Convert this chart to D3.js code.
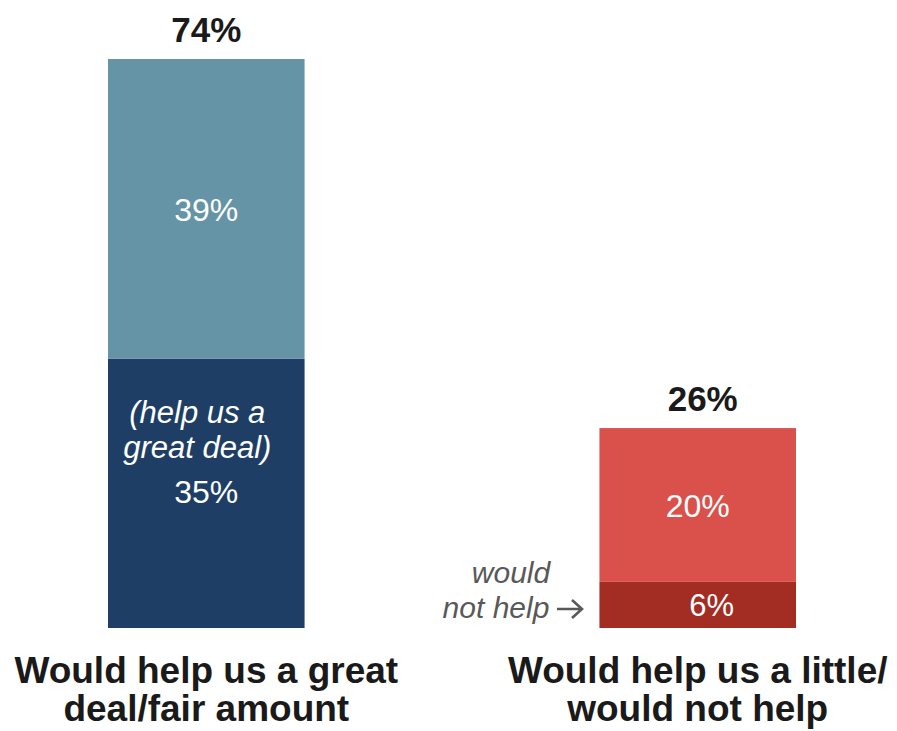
<!DOCTYPE html>
<html>
<head>
<meta charset="utf-8">
<script src="https://cdn.jsdelivr.net/npm/d3@7"></script>
<style>
  html, body { margin: 0; padding: 0; background: #ffffff; }
  svg { display: block; font-family: "Liberation Sans", Arial, sans-serif; }
</style>
</head>
<body>
<svg id="chart" width="897" height="731"></svg>
<script>
// Two stacked bars: share of respondents by how much the help would matter
const categories = ["great", "little"];
const categoryLines = [
  ["Would help us a great", "deal/fair amount"],
  ["Would help us a little/", "would not help"]
];
const lowerValues = [35, 6];   // "a great deal" / "would not help"
const upperValues = [39, 20];  // "a fair amount" / "a little"
const totals = [74, 26];

const lowerColors = ["#1e3e66", "#a32d23"];
const upperColors = ["#6694a7", "#d9514a"];

const svg = d3.select("#chart");

const baseline = 628;
const x = d3.scaleBand()
  .domain(categories)
  .range([108, 796])
  .paddingInner(0.6)
  .paddingOuter(0);

const y = d3.scaleLinear()
  .domain([0, 74])
  .range([baseline, 59]);

const bars = categories.map((c, i) => ({
  key: c,
  lower: lowerValues[i],
  upper: upperValues[i],
  total: totals[i],
  lowerColor: lowerColors[i],
  upperColor: upperColors[i],
  lines: categoryLines[i]
}));

const g = svg.append("g");

// lower segment
g.selectAll("rect.lower")
  .data(bars)
  .join("rect")
  .attr("class", "lower")
  .attr("x", d => x(d.key))
  .attr("width", x.bandwidth())
  .attr("y", d => y(d.lower))
  .attr("height", d => y(0) - y(d.lower))
  .attr("fill", d => d.lowerColor);

// upper segment
g.selectAll("rect.upper")
  .data(bars)
  .join("rect")
  .attr("class", "upper")
  .attr("x", d => x(d.key))
  .attr("width", x.bandwidth())
  .attr("y", d => y(d.lower + d.upper))
  .attr("height", d => y(d.lower) - y(d.lower + d.upper))
  .attr("fill", d => d.upperColor);

const cx = d => x(d.key) + x.bandwidth() / 2;

// totals above bars
g.selectAll("text.total")
  .data(bars)
  .join("text")
  .attr("class", "total")
  .attr("x", (d, i) => cx(d) + (i === 1 ? 5 : 0))
  .attr("y", d => y(d.total) - 17)
  .attr("text-anchor", "middle")
  .attr("font-size", 35)
  .attr("font-weight", "bold")
  .attr("fill", "#1a1a1a")
  .text(d => d.total + "%");

// upper segment values
g.selectAll("text.upperLabel")
  .data(bars)
  .join("text")
  .attr("class", "upperLabel")
  .attr("x", d => cx(d))
  .attr("y", d => (y(d.lower) + y(d.lower + d.upper)) / 2 + 12)
  .attr("text-anchor", "middle")
  .attr("font-size", 32)
  .attr("fill", "#ffffff")
  .text(d => d.upper + "%");

// lower segment values
const lb = bars[0];
g.append("text")
  .attr("x", cx(lb))
  .attr("y", 503)
  .attr("text-anchor", "middle")
  .attr("font-size", 32)
  .attr("fill", "#ffffff")
  .text(lb.lower + "%");

const rb = bars[1];
g.append("text")
  .attr("x", cx(rb) + 14)
  .attr("y", (y(0) + y(rb.lower)) / 2 + 11)
  .attr("text-anchor", "middle")
  .attr("font-size", 31)
  .attr("fill", "#ffffff")
  .text(rb.lower + "%");

// note inside the dark blue segment
const note = g.append("text")
  .attr("text-anchor", "middle")
  .attr("font-size", 31)
  .attr("font-style", "italic")
  .attr("fill", "#ffffff");
note.append("tspan").attr("x", cx(lb) - 9).attr("y", 423).text("(help us a");
note.append("tspan").attr("x", cx(lb) - 9).attr("y", 458).text("great deal)");

// side note for the dark red segment
const side = g.append("text")
  .attr("text-anchor", "middle")
  .attr("font-size", 30)
  .attr("font-style", "italic")
  .attr("fill", "#595959");
side.append("tspan").attr("x", 511).attr("y", 583).text("would");
side.append("tspan").attr("x", 496).attr("y", 618).text("not help");

// arrow pointing at the segment
const ay = 609;
g.append("path")
  .attr("d", `M557,${ay} H582 M572,${ay - 9} L582,${ay} L572,${ay + 9}`)
  .attr("fill", "none")
  .attr("stroke", "#595959")
  .attr("stroke-width", 2.6);

// category labels
bars.forEach(d => {
  const t = g.append("text")
    .attr("text-anchor", "middle")
    .attr("font-size", 37)
    .attr("font-weight", "bold")
    .attr("fill", "#1a1a1a");
  d.lines.forEach((line, j) => {
    t.append("tspan")
      .attr("x", cx(d))
      .attr("y", 683 + j * 38)
      .text(line);
  });
});
</script>
</body>
</html>
